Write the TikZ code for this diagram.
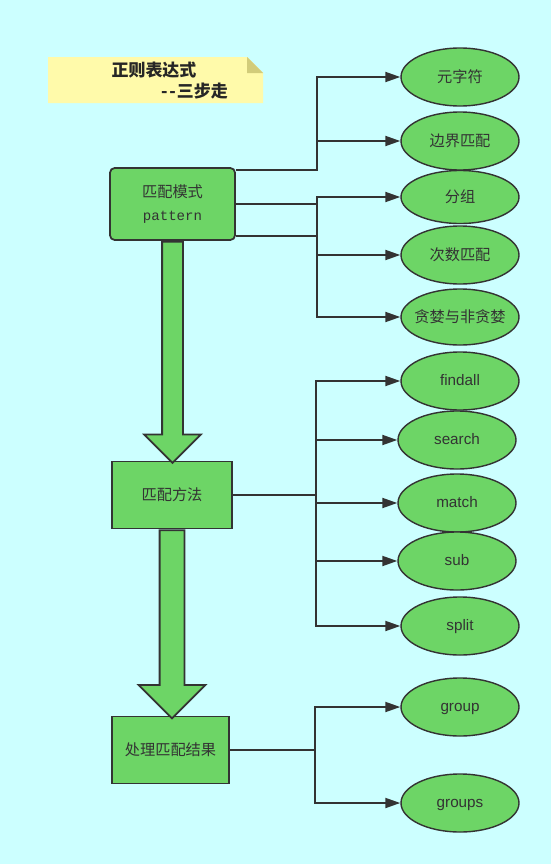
\documentclass[tikz,border=0pt]{standalone}
\usepackage{fontspec}
\setmainfont{Liberation Sans}
\setmonofont{Liberation Mono}
\newfontfamily\cjk{Noto Sans CJK SC}
\usetikzlibrary{arrows.meta,shapes.geometric,shapes.arrows}
\definecolor{bgcyan}{HTML}{CCFFFF}
\definecolor{boxgreen}{HTML}{6DD566}
\definecolor{linegray}{HTML}{333333}
\definecolor{noteyellow}{HTML}{FFFAAA}
\definecolor{notefold}{HTML}{D2CC7A}

\begin{document}
\begin{tikzpicture}[
    x=0.03cm, y=-0.03cm,
    box/.style={draw=linegray, fill=boxgreen, line width=1.5pt, text=linegray, align=center, inner sep=0pt, font=\cjk\fontsize{13}{19}\selectfont},
    item/.style={ellipse, draw=linegray, fill=boxgreen, line width=1.2pt, minimum width=3.54cm, minimum height=1.74cm, inner sep=0pt, text=linegray, text height=0.72em, text depth=0pt, font=\fontsize{13}{15}\selectfont},
    itemcn/.style={item, text height=, text depth=, font=\cjk\fontsize{13}{15}\selectfont},
    title/.style={inner sep=0pt, text=black!85, font=\cjk\bfseries\fontsize{14.5}{17}\selectfont},
    conn/.style={draw=linegray, line width=1.6pt, -{Triangle[length=4.5mm,width=3mm]}},
    bigarrow/.style={single arrow, draw=linegray, fill=boxgreen, line width=1.5pt, rotate=-90, anchor=tail}
]
    % page and note
    \fill[bgcyan] (0,0) rectangle (551,864);
    \useasboundingbox (0,0) rectangle (551,864);
    \fill[noteyellow] (48,57) -- (247,57) -- (263,73) -- (263,103) -- (48,103) -- cycle;
    \fill[notefold] (247,57) -- (263,73) -- (247,73) -- cycle;
    \node[title] (t1) at (154,70) {正则表达式};
    \node[title] (t2) at (194.5,91) {{-}\hspace{1.5pt}{-}\hspace{1pt}三步走};

    % three steps
    \node[box, rounded corners=4pt, minimum width=3.75cm, minimum height=2.16cm] (m1) at (172.5,204) {匹配模式\\\fontsize{12}{14}\selectfont\texttt{pattern}};
    \node[box, minimum width=3.6cm, minimum height=2.01cm] (m2) at (172,495) {匹配方法};
    \node[box, minimum width=3.51cm, minimum height=2.01cm] (m3) at (170.5,750) {处理匹配结果};

    \node[bigarrow, inner sep=0.285cm, minimum height=6.63cm, minimum width=1.65cm, single arrow head extend=0.54cm] (a1) at (m1.south) {};
    \node[bigarrow, inner sep=0.345cm, minimum height=5.64cm, minimum width=1.95cm, single arrow head extend=0.63cm] (a2) at (m2.south) {};

    % right column
    \node[itemcn] (meta) at (460,77) {元字符};
    \node[itemcn] (bound) at (460,141) {边界匹配};
    \node[itemcn, minimum height=1.59cm] (grouping) at (460,197) {分组};
    \node[itemcn] (count) at (460,255) {次数匹配};
    \node[itemcn, minimum height=1.68cm] (greedy) at (460,317) {\makebox[0pt]{贪婪与非贪婪}};
    \node[item] (findall) at (460,381) {findall};
    \node[item] (search) at (457,440) {search};
    \node[item] (match) at (457,503) {match};
    \node[item] (sub) at (457,561) {sub};
    \node[item] (split) at (460,626) {split};
    \node[item] (grp) at (460,707) {group};
    \node[item] (grps) at (460,803) {groups};

    % connectors
    \coordinate (bus1) at (317,0);
    \coordinate (bus2) at (316,0);
    \coordinate (bus3) at (315,0);
    \coordinate (p1) at ([yshift=1.02cm]m1.east);
    \coordinate (p2) at (m1.east);
    \coordinate (p3) at ([yshift=-0.96cm]m1.east);
    \foreach \pt/\e in {p1/meta, p1/bound, p2/grouping, p2/count, p3/greedy}
        \draw[conn] (\pt) -- (\pt -| bus1) |- (\e.west);
    \foreach \e in {findall, search, match, sub, split}
        \draw[conn] (m2.east) -- (m2.east -| bus2) |- (\e.west);
    \foreach \e in {grp, grps}
        \draw[conn] (m3.east) -- (m3.east -| bus3) |- (\e.west);
\end{tikzpicture}
\end{document}
